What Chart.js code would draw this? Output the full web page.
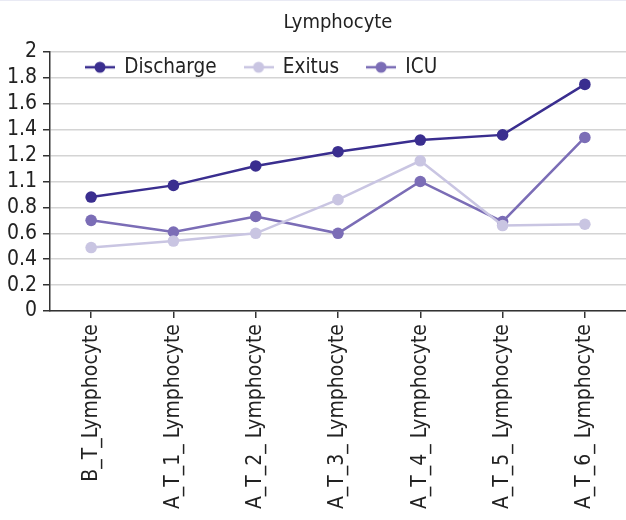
<!DOCTYPE html>
<html>
<head>
<meta charset="utf-8">
<script src="https://cdn.jsdelivr.net/npm/chart.js@4.4.1/dist/chart.umd.min.js"></script>
<style>
  body { margin: 0; background: #fff; }
  #wrap { position: relative; width: 626px; height: 520px; }
  #topline { position: absolute; left: 0; top: 0; width: 626px; height: 1px; background: #e9eaf4; }
</style>
</head>
<body>
<div id="wrap"><canvas id="lymphChart" width="626" height="520"></canvas><div id="topline"></div></div>
<script>
// categories on the x axis
const categories = ['B_T_Lymphocyte', 'A_T_1_ Lymphocyte', 'A_T_2_ Lymphocyte', 'A_T_3_ Lymphocyte',
                    'A_T_4_ Lymphocyte', 'A_T_5_ Lymphocyte', 'A_T_6_ Lymphocyte'];

// series values
const discharge = [0.88, 0.97, 1.12, 1.23, 1.32, 1.36, 1.75];
const exitus    = [0.49, 0.54, 0.60, 0.86, 1.16, 0.66, 0.67];
const icu       = [0.70, 0.61, 0.73, 0.60, 1.00, 0.69, 1.34];

// y tick labels as printed in the original (note the "1.1" at the 1.0 line)
const yTickLabels = ['0', '0.2', '0.4', '0.6', '0.8', '1.1', '1.2', '1.4', '1.6', '1.8', '2'];

const seriesColors = ['#3a2e8f', '#c9c5e2', '#7b6db6'];
const textColor = '#222';
const fontFamily = '"DejaVu Sans Condensed", "DejaVu Sans", Verdana, sans-serif';

// small canvas used as legend marker: a line with a dot in the middle
function legendMarker(color) {
    const c = document.createElement('canvas');
    c.width = 30;
    c.height = 14;
    const g = c.getContext('2d');
    g.strokeStyle = color;
    g.lineWidth = 2.5;
    g.beginPath();
    g.moveTo(0, 7);
    g.lineTo(30, 7);
    g.stroke();
    g.fillStyle = color;
    g.beginPath();
    g.arc(15, 7, 5.5, 0, Math.PI * 2);
    g.fill();
    return c;
}

// legend sits inside the plot, laid out in one row like the original
const legendInside = {
    id: 'legendInside',
    beforeLayout(chart) {
        if (chart.legend) chart.legend.isHorizontal = () => true;
    },
    afterLayout(chart) {
        const lg = chart.legend;
        if (!lg) return;
        const w = lg.width;
        lg.left = 58;
        lg.right = 58 + w;
        lg.top = 29;
    }
};

function makeDataset(label, values, color) {
    return {
        label: label,
        data: values,
        borderColor: color,
        backgroundColor: color,
        borderWidth: 2.5,
        pointRadius: 5.8,
        pointHoverRadius: 5.8,
        pointBorderWidth: 0,
        tension: 0,
        fill: false
    };
}

const ctx = document.getElementById('lymphChart').getContext('2d');
const lymphChart = new Chart(ctx, {
    type: 'line',
    data: {
        labels: categories,
        datasets: [
            makeDataset('Discharge', discharge, seriesColors[0]),
            makeDataset('Exitus', exitus, seriesColors[1]),
            makeDataset('ICU', icu, seriesColors[2])
        ]
    },
    plugins: [legendInside],
    options: {
        responsive: false,
        animation: false,
        layout: { padding: 0, autoPadding: false },
        plugins: {
            title: {
                display: true,
                text: 'Lymphocyte',
                fullSize: false,
                color: textColor,
                font: { family: fontFamily, size: 20, weight: 'normal' },
                padding: { top: 11, bottom: 17 }
            },
            legend: {
                position: 'chartArea',
                align: 'start',
                labels: {
                    usePointStyle: true,
                    pointStyleWidth: 28,
                    padding: 28,
                    color: textColor,
                    font: { family: fontFamily, size: 20.5 },
                    generateLabels(chart) {
                        const items = Chart.defaults.plugins.legend.labels.generateLabels(chart);
                        items.forEach(it => { it.pointStyle = legendMarker(seriesColors[it.datasetIndex]); });
                        return items;
                    }
                }
            },
            tooltip: { enabled: false }
        },
        scales: {
            x: {
                offset: true,
                grid: {
                    drawOnChartArea: false,
                    tickLength: 7,
                    color: '#333',
                    lineWidth: 1.5
                },
                border: { color: '#333', width: 1.5 },
                ticks: {
                    minRotation: 90,
                    maxRotation: 90,
                    autoSkip: false,
                    padding: 6,
                    color: textColor,
                    font: { family: fontFamily, size: 21 }
                },
                afterFit(scale) {
                    scale.height = 209;
                    scale.paddingLeft = 0;
                    scale.paddingRight = 0;
                }
            },
            y: {
                min: 0,
                max: 2,
                grid: {
                    color: '#d4d4d4',
                    lineWidth: 1.5,
                    tickLength: 7,
                    tickColor: '#333'
                },
                border: { color: '#333', width: 1.5 },
                ticks: {
                    stepSize: 0.2,
                    autoSkip: false,
                    padding: 6,
                    color: textColor,
                    font: { family: fontFamily, size: 21 },
                    callback: (v) => yTickLabels[Math.round(v / 0.2)]
                },
                afterFit(scale) { scale.width = 50; }
            }
        }
    }
});
</script>
</body>
</html>
